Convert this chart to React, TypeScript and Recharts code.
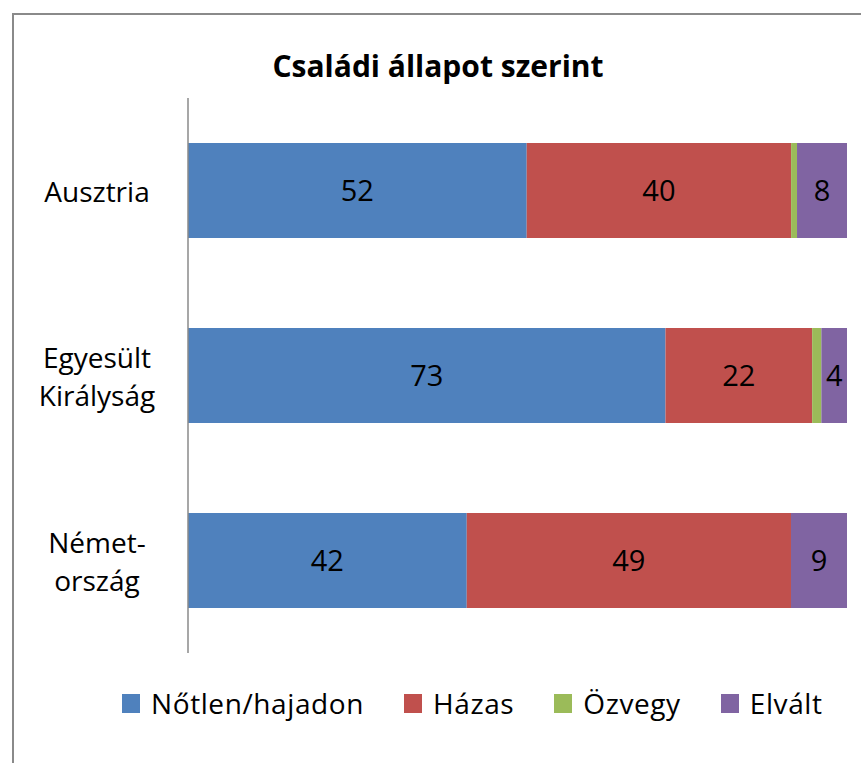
import React from "react";
import { BarChart, Bar, XAxis, YAxis, LabelList } from "recharts";

const categories = ["Ausztria", "Egyesült Királyság", "Német-ország"];
const tickLines = [["Ausztria"], ["Egyesült", "Királyság"], ["Német-", "ország"]];
const notlen = [51.5, 72.6, 42.3];
const hazas = [40.2, 22.3, 49.2];
const ozvegy = [0.9, 1.4, 0];
const elvalt = [7.6, 3.9, 8.5];
const seriesNames = ["Nőtlen/hajadon", "Házas", "Özvegy", "Elvált"];
const colors = ["#4F81BD", "#C0504D", "#9BBB59", "#8064A2"];

const data = categories.map((c, i) => ({
  name: c,
  s0: notlen[i],
  s1: hazas[i],
  s2: ozvegy[i],
  s3: elvalt[i],
}));

const FONT = "'Open Sans', 'Noto Sans', sans-serif";

const CatTick = (props: any) => {
  const { y, index } = props;
  const lines = tickLines[index] || [String(props.payload.value)];
  const lh = 38;
  const start = y - ((lines.length - 1) * lh) / 2;
  return (
    <g>
      {lines.map((l: string, k: number) => (
        <text
          key={k}
          x={97}
          y={start + k * lh}
          textAnchor="middle"
          dominantBaseline="central"
          fontFamily={FONT}
          fontSize={28}
          fill="#000"
        >
          {l}
        </text>
      ))}
    </g>
  );
};

const fmt = (v: any) => (typeof v === "number" && v >= 2 ? String(Math.round(v)) : "");

const LegendBox = () => (
  <div
    style={{
      position: "absolute",
      left: 122,
      top: 684,
      display: "flex",
      alignItems: "center",
      fontFamily: FONT,
      fontSize: 28,
      letterSpacing: 0.6,
      color: "#000",
      whiteSpace: "nowrap",
    }}
  >
    {seriesNames.map((n, i) => (
      <div key={n} style={{ display: "flex", alignItems: "center", marginLeft: i === 0 ? 0 : 40 }}>
        <span style={{ display: "inline-block", width: 18, height: 19, background: colors[i], marginRight: 11 }} />
        <span>{n}</span>
      </div>
    ))}
  </div>
);

export default function App() {
  return (
    <div style={{ position: "absolute", left: 0, top: 0, width: 861, height: 763, overflow: "hidden", background: "#fff" }}>
      <div style={{ position: "absolute", left: 12, top: 13, width: 1000, height: 1000, borderLeft: "2px solid #8a8a8a", borderTop: "2px solid #8a8a8a" }} />
      <div style={{ position: "absolute", left: 0, top: 45, width: 876, textAlign: "center", fontFamily: FONT, fontWeight: 700, fontSize: 30, color: "#000" }}>
        Családi állapot szerint
      </div>
      <div style={{ position: "absolute", left: 0, top: 0 }}>
        <BarChart
          width={861}
          height={763}
          data={data}
          layout="vertical"
          stackOffset="expand"
          margin={{ top: 98, right: 14, bottom: 110, left: 187 }}
          barSize={95}
        >
          <XAxis type="number" hide domain={[0, 1]} />
          <YAxis
            type="category"
            dataKey="name"
            width={1}
            axisLine={{ stroke: "#8a8a8a", strokeWidth: 1.5 }}
            tickLine={false}
            tick={<CatTick />}
            interval={0}
          />
          {["s0", "s1", "s2", "s3"].map((k, i) => (
            <Bar key={k} dataKey={k} name={seriesNames[i]} stackId="a" fill={colors[i]} isAnimationActive={false}>
              {i !== 2 && (
                <LabelList
                  dataKey={k}
                  position="center"
                  formatter={fmt}
                  style={{ fontFamily: FONT, fontSize: 29, fill: "#000" }}
                />
              )}
            </Bar>
          ))}
        </BarChart>
      </div>
      <LegendBox />
    </div>
  );
}
